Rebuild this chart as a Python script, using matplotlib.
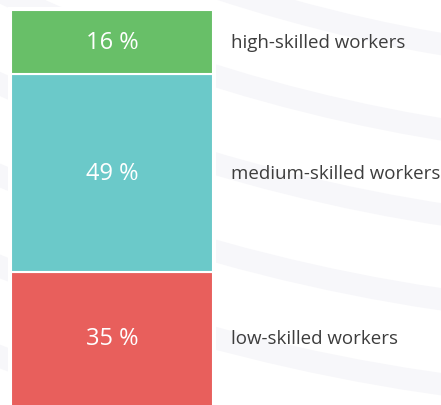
"""Skill levels of workers: one stacked bar with side labels."""

import numpy as np
import matplotlib
matplotlib.use("Agg")
import matplotlib.pyplot as plt
from matplotlib.patches import Circle, Rectangle

# Data (bottom to top)
categories = ["low-skilled workers", "medium-skilled workers", "high-skilled workers"]
shares = [35, 49, 16]
colors = ["#e85f5c", "#6bc9c9", "#68bf68"]

plt.rcParams["font.family"] = ["Open Sans", "DejaVu Sans"]

W, H = 441, 406
fig = plt.figure(figsize=(W / 100, H / 100), dpi=100)

# background decoration: faint wide arcs, drawn in pixel coords
bg = fig.add_axes([0, 0, 1, 1])
bg.set_xlim(0, W)
bg.set_ylim(H, 0)
bg.axis("off")
for r in range(1400, 2100, 84):
    bg.add_patch(Circle((708, -1500), r, fill=False, lw=16, ec="#f7f7fa"))
bg.add_patch(Rectangle((8, 8), 208, H, fc="white", ec="none"))

# the bar
ylo, yhi = 2, 100
ax = fig.add_axes([11 / W, 0, 202 / W, (H - 11) / H])
bottoms = np.concatenate([[0], np.cumsum(shares)[:-1]])
ax.bar(0, shares, bottom=bottoms, width=1, color=colors, edgecolor="white", linewidth=1.5)
ax.set_xlim(-0.5, 0.5)
ax.set_ylim(ylo, yhi)
ax.axis("off")

for cat, s, b in zip(categories, shares, bottoms):
    y = (max(b, ylo) + b + s) / 2
    ax.text(0, y, f"{s} %", ha="center", va="center", color="white", fontsize=17)
    ax.text(1.09, y, cat, transform=ax.get_yaxis_transform(), ha="left", va="center",
            color="#3d3d3d", fontsize=13.5, clip_on=False)

fig.savefig("out.png", dpi=100)
